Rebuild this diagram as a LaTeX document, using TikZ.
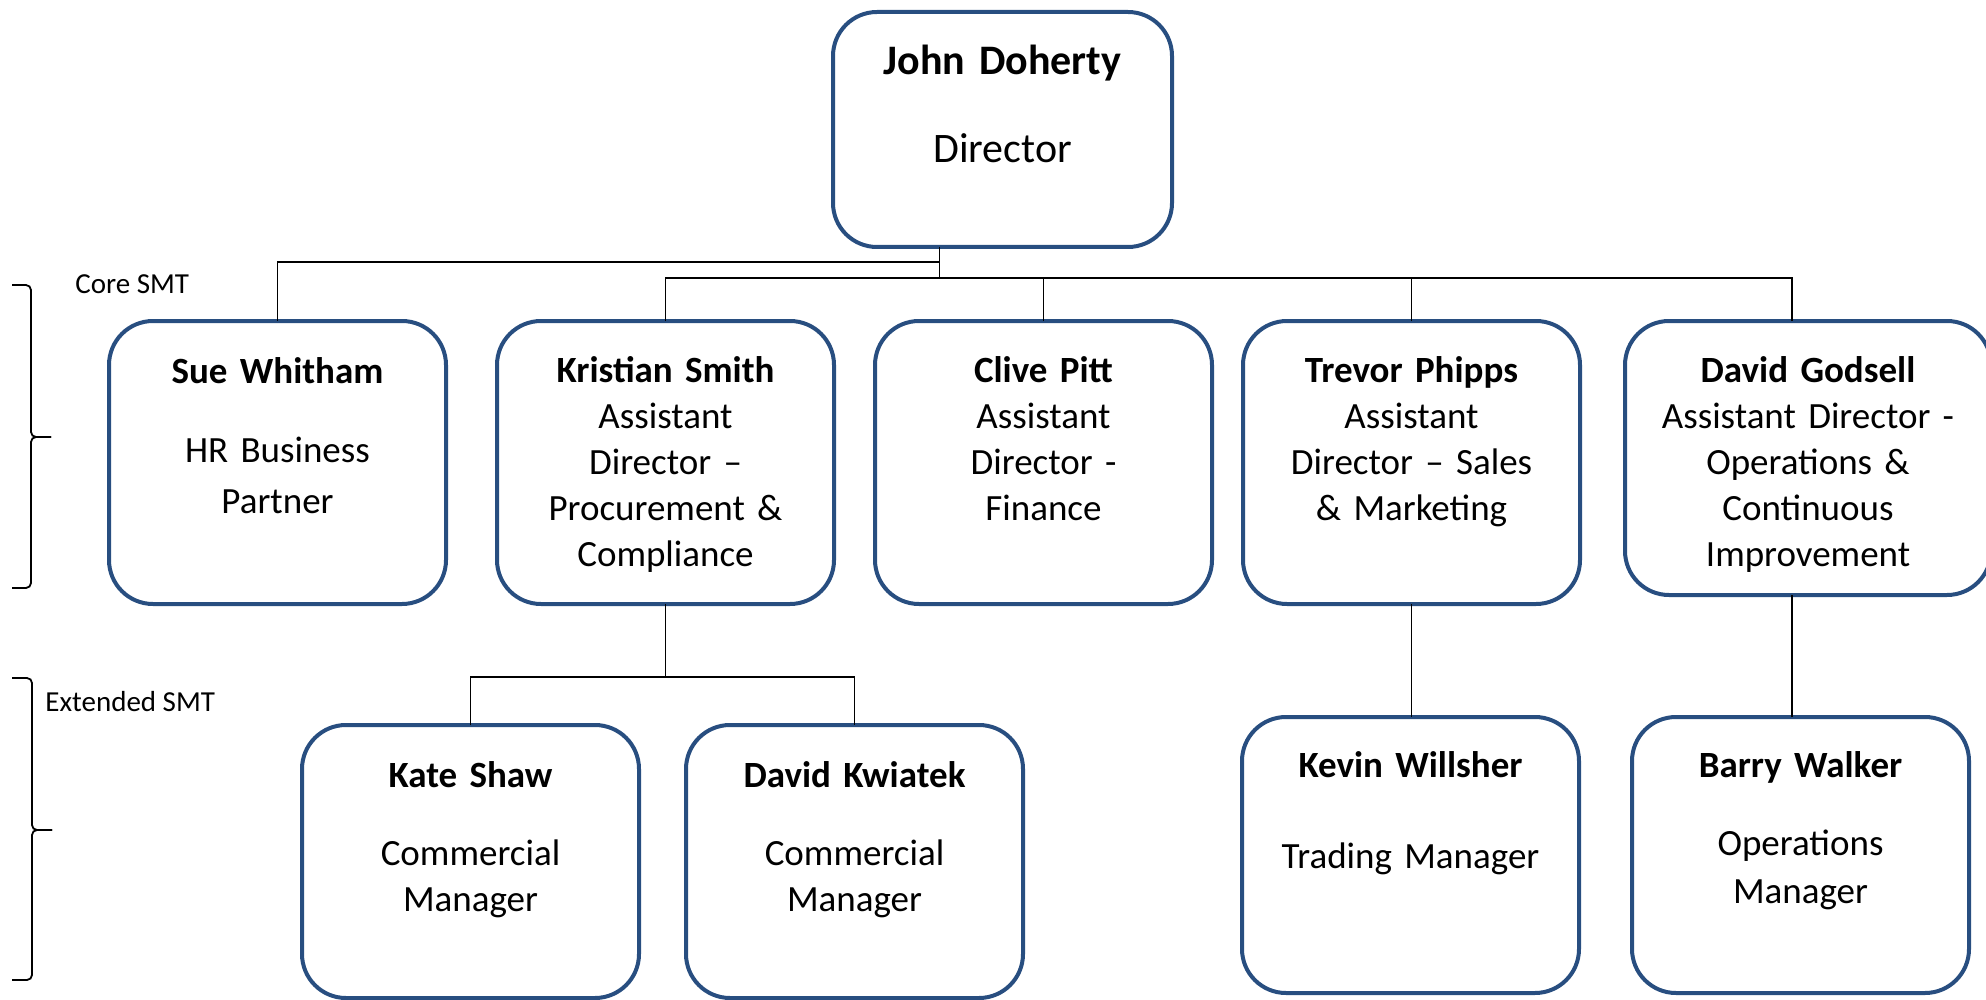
\documentclass[tikz,border=0pt]{standalone}
\usepackage{fontspec}
\setmainfont{Carlito}
\usetikzlibrary{positioning,calc}
\definecolor{smtblue}{RGB}{40,78,128}

\begin{document}
\begin{tikzpicture}[x=0.5pt, y=-0.5pt,
    post/.style={draw=smtblue, line width=2pt, rounded corners=22pt,
      minimum width=168.5pt, minimum height=141.5pt,
      inner sep=0pt, outer sep=0pt, anchor=north west},
    who/.style={text width=170pt, align=center, anchor=base, inner sep=0pt,
      font=\fontsize{18.5}{23}\selectfont},
    link/.style={line width=0.8pt},
    bracket/.style={line width=0.9pt, rounded corners=2.5pt},
    teamtag/.style={anchor=base west, inner sep=0pt,
      font=\fontsize{14.5}{17}\selectfont}]
  \useasboundingbox (0,0) rectangle (1986,1000);

  % boxes
  \node[post, minimum width=169.5pt, minimum height=117.5pt] (john) at (833,12) {};
  \node[post] (sue) at (109,321) {};
  \node[post, right=25.5pt of sue] (kristian) {};
  \node[post, right=20.5pt of kristian] (clive) {};
  \node[post, right=15.5pt of clive] (trevor) {};
  \node[post, minimum width=183pt, minimum height=137pt,
    right=22.5pt of trevor.north east, anchor=north west] (godsell) {};
  \node[post, minimum height=136.5pt] (kate) at (302,725) {};
  \node[post, minimum height=136.5pt, right=23.5pt of kate] (kwiatek) {};
  \node[post, minimum height=138pt] (kevin) at (1242,717) {};
  \node[post, minimum height=138pt, right=26.5pt of kevin] (barry) {};

  % names and titles
  \node[who, font=\fontsize{21}{25}\selectfont] (john-txt) at ($(john.north)+(0,63)$)
    {\textbf{John Doherty}\\[19pt] Director};
  \node[who] (sue-txt) at ($(sue.north)+(0,62)$)
    {\textbf{Sue Whitham}\\[16.5pt] HR Business\\[2.5pt] Partner};
  \node[who] (kristian-txt) at ($(kristian.north)+(0,61)$)
    {\textbf{Kristian Smith}\\ Assistant\\ Director –\\ Procurement \&\\ Compliance};
  \node[who] (clive-txt) at ($(clive.north)+(0,61)$)
    {\textbf{Clive Pitt}\\ Assistant\\ Director -\\ Finance};
  \node[who] (trevor-txt) at ($(trevor.north)+(0,61)$)
    {\textbf{Trevor Phipps}\\ Assistant\\ Director – Sales\\ \& Marketing};
  \node[who] (godsell-txt) at ($(godsell.north)+(0,61)$)
    {\textbf{David Godsell}\\ Assistant Director -\\ Operations \&\\ Continuous\\ Improvement};
  \node[who] (kate-txt) at ($(kate.north)+(0,62)$)
    {\textbf{Kate Shaw}\\[16pt] Commercial\\ Manager};
  \node[who] (kwiatek-txt) at ($(kwiatek.north)+(0,62)$)
    {\textbf{David Kwiatek}\\[16pt] Commercial\\ Manager};
  \node[who] (kevin-txt) at ($(kevin.north)+(0,60)$)
    {\textbf{Kevin Willsher}\\[22.5pt] Trading Manager};
  \node[who] (barry-txt) at ($(barry.north)+(0,60)$)
    {\textbf{Barry Walker}\\[16pt] Operations\\[1pt] Manager};

  % team brackets
  \node[teamtag] (core) at (75,293) {Core SMT};
  \node[teamtag] (extended) at (45,711) {Extended SMT};
  \draw[bracket] (12,285) -- (31,285) -- (31,437) -- (51,437);
  \draw[bracket] (12,588) -- (31,588) -- (31,437) -- (51,437);
  \draw[bracket] (12,678) -- (32,678) -- (32,830) -- (52,830);
  \draw[bracket] (12,980) -- (32,980) -- (32,830) -- (52,830);

  % reporting lines
  \coordinate (hub) at ($(john.south)+(-63,0)$);
  \coordinate (bar) at ($(hub)+(0,31)$);
  \draw[link] (hub) -- ++(0,15) -| (sue.north);
  \draw[link] (hub) -- (bar);
  \draw[link] (kristian.north) |- (bar) -| ($(godsell.north)+(-16,0)$);
  \draw[link] (clive.north) -- (clive.north |- bar);
  \draw[link] (trevor.north) -- (trevor.north |- bar);
  \coordinate (split) at ($(kristian.south)+(0,73)$);
  \draw[link] (kristian.south) -- (split);
  \draw[link] (kate.north) |- (split) -| (kwiatek.north);
  \draw[link] (trevor.south) -- (trevor.south |- kevin.north);
  \coordinate (g) at ($(godsell.south)+(-16,0)$);
  \draw[link] (g) -- (g |- barry.north);
\end{tikzpicture}
\end{document}
